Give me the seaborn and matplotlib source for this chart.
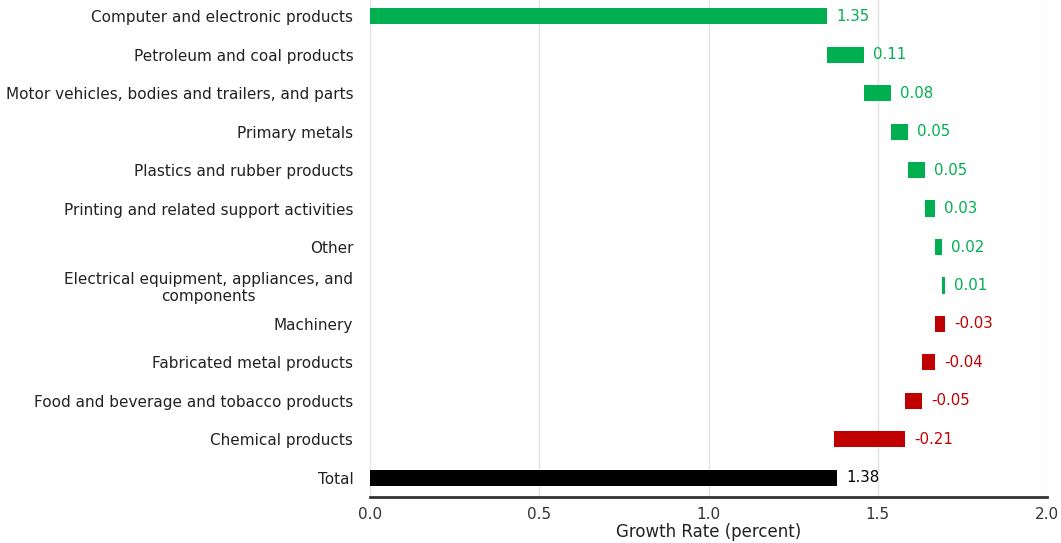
import numpy as np
import pandas as pd
import matplotlib
matplotlib.use("Agg")
import matplotlib.pyplot as plt
import seaborn as sns

categories = [
    "Computer and electronic products",
    "Petroleum and coal products",
    "Motor vehicles, bodies and trailers, and parts",
    "Primary metals",
    "Plastics and rubber products",
    "Printing and related support activities",
    "Other",
    "Electrical equipment, appliances, and\ncomponents",
    "Machinery",
    "Fabricated metal products",
    "Food and beverage and tobacco products",
    "Chemical products",
]
contributions = [1.35, 0.11, 0.08, 0.05, 0.05, 0.03, 0.02, 0.01, -0.03, -0.04, -0.05, -0.21]
total_label = "Total"
total_value = 1.38
x_ticks = [0.0, 0.5, 1.0, 1.5, 2.0]
x_title = "Growth Rate (percent)"

GREEN = "#00B050"
RED = "#C00000"
BLACK = "#000000"

contrib = np.array(contributions)
ends = np.cumsum(contrib)
starts = ends - contrib
lefts = list(np.minimum(starts, ends)) + [0.0]
rights = list(np.maximum(starts, ends)) + [total_value]
widths = list(np.abs(contrib)) + [total_value]
colors = [GREEN if v >= 0 else RED for v in contributions] + [BLACK]
labels = categories + [total_label]
values = contributions + [total_value]

df = pd.DataFrame({"cat": labels, "width": widths})

sns.set_theme(style="white")
plt.rcParams["font.family"] = ["DejaVu Sans"]

fig = plt.figure(figsize=(10.61, 5.43), dpi=100)
ax = fig.add_axes([370 / 1061, 46 / 543, 677 / 1061, 500 / 543])

sns.barplot(data=df, y="cat", x="width", hue="cat", palette=colors, legend=False,
            orient="h", width=0.42, saturation=1, ax=ax, zorder=3)
for patch, left in zip(ax.patches, lefts):
    patch.set_x(left)
    patch.set_linewidth(0)

for i, (r, v, c) in enumerate(zip(rights, values, colors)):
    ax.annotate(f"{v:.2f}", xy=(r, i), xytext=(6.5, 0), textcoords="offset points",
                ha="left", va="center", color=c, fontsize=10.8)

ax.set_xlim(0, 2.0)
ax.set_ylim(len(labels) - 0.5, -0.5)
ax.set_xticks(x_ticks)
ax.set_xticklabels([f"{t:.1f}" for t in x_ticks])
ax.xaxis.grid(True, color="#e3e3e3", linewidth=1, zorder=0)
ax.yaxis.grid(False)
ax.set_axisbelow(True)

for s in ["top", "right", "left"]:
    ax.spines[s].set_visible(False)
ax.spines["bottom"].set_color("#333333")
ax.spines["bottom"].set_linewidth(2)

ax.tick_params(axis="y", length=0, pad=12, labelsize=11, labelcolor="#222222")
ax.tick_params(axis="x", length=0, pad=7, labelsize=11, labelcolor="#333333")
for t in ax.get_yticklabels():
    t.set_multialignment("center")

ax.set_ylabel("")
ax.set_xlabel(x_title, fontsize=12, color="#222222", labelpad=1)

fig.savefig("out.png", dpi=100)
